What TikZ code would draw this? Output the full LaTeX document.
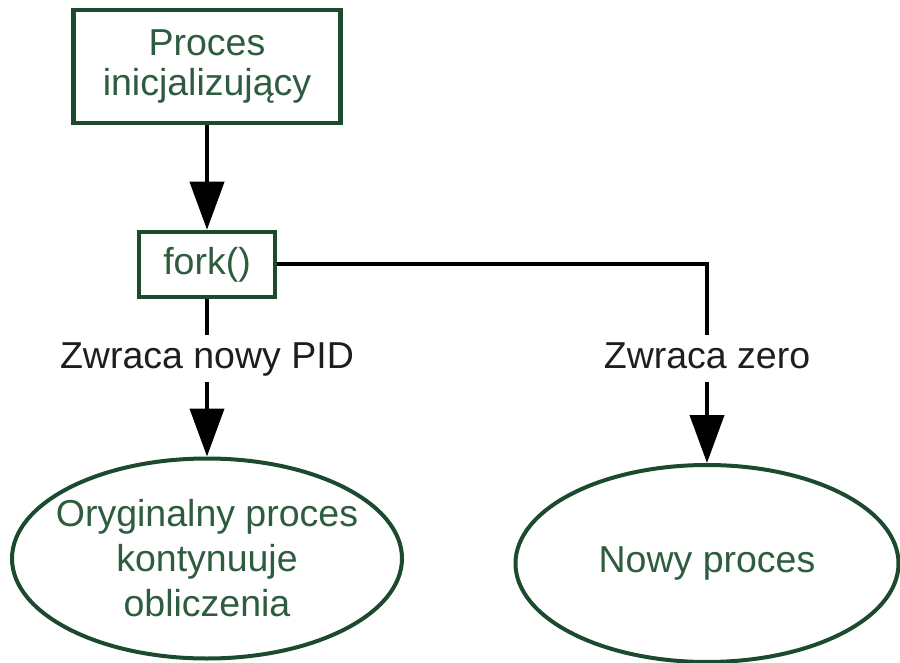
\documentclass[tikz,border=0pt]{standalone}
\usepackage{fontspec}
\setmainfont{Liberation Sans}
\usetikzlibrary{arrows.meta,shapes.geometric}
\definecolor{boxline}{RGB}{28,74,46}
\definecolor{boxtext}{RGB}{45,92,62}
\definecolor{lbltext}{RGB}{30,30,30}
\tikzset{
  procbox/.style={draw=boxline, line width=4.5pt, fill=white, rectangle, inner sep=0pt,
    text=boxtext, align=center},
  procell/.style={draw=boxline, line width=4pt, fill=white, ellipse, inner ysep=0pt, inner xsep=-15pt,
    text=boxtext, align=center, font=\fontsize{37.5}{45}\selectfont},
  lbl/.style={text=lbltext, inner xsep=2pt, inner ysep=6pt, text height=27pt, text depth=8pt,
    font=\fontsize{37.5}{45}\selectfont},
  conn/.style={draw=black, line width=4pt},
  arr/.style={conn, -{Triangle[length=48pt,width=34pt]}}
}
\begin{document}
\begin{tikzpicture}[x=1pt,y=-1pt]
\useasboundingbox (0,0) rectangle (900,663);
\node[procbox, minimum width=267pt, minimum height=113pt, font=\fontsize{37.5}{39.5}\selectfont]
  (init) at (207,66.5) {Proces\\inicjalizujący};
\node[procbox, minimum width=136pt, minimum height=65pt, font=\fontsize{37.5}{45}\selectfont]
  (fork) at (207,264.5) {fork()};
\node[lbl] (lblL) at (207,358.5) {Zwraca nowy PID};
\node[lbl] (lblR) at (707,358.5) {Zwraca zero};
\node[procell, minimum width=390pt, minimum height=200pt]
  (orig) at (207,558.5) {Oryginalny proces\\kontynuuje\\obliczenia};
\node[procell, inner xsep=0pt, minimum width=383pt, minimum height=197pt]
  (new) at (707,563.5) {Nowy proces};
\draw[arr] (init.south) -- (fork.north);
\draw[conn] (fork.south) -- (lblL.north);
\draw[arr] (lblL.south) -- (orig.north);
\draw[conn] (fork.east) -| (lblR.north);
\draw[arr] (lblR.south) -- (new.north);
\end{tikzpicture}
\end{document}
